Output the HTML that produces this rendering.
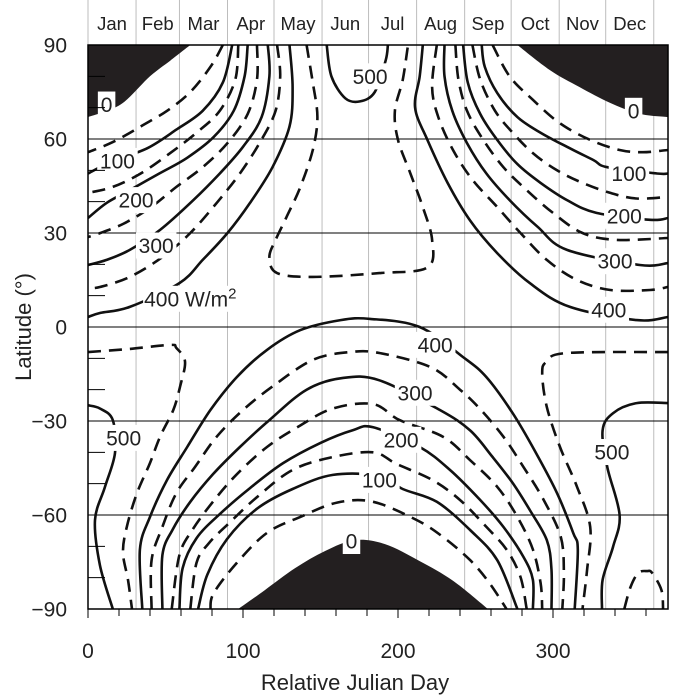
<!DOCTYPE html>
<html><head><meta charset="utf-8"><style>
html,body{margin:0;padding:0;background:#fff;}
svg{display:block;font-family:"Liberation Sans",sans-serif;}
</style></head><body>
<svg id="chart" width="677" height="695" viewBox="0 0 677 695" xmlns="http://www.w3.org/2000/svg"></svg>
<script>
// ---- data (day, latitude) ----
const months = ["Jan","Feb","Mar","Apr","May","Jun","Jul","Aug","Sep","Oct","Nov","Dec"];
const monthStarts = [0,31,59,90,120,151,181,212,243,273,304,334,365];
const xTicks = [0,100,200,300];
const yTicks = [90,60,30,0,-30,-60,-90];
const darkNorthLeft = [[66,90],[53,85],[40,80],[21,71],[0,67]];
const darkNorthRight = [[277,90],[298,82],[317,76.6],[337,71.5],[356,68],[374.2,67]];
const darkSouth = [[97,-90],[114,-84],[133.5,-77],[153,-71.5],[172,-68],[191.6,-69.3],[214,-74.7],[235.5,-81],[258,-90]];
const nL50 = [[87,90],[79,83],[66,75],[51,69],[34,64],[16,59],[0,55.8]];
const nL100 = [[93,90],[87,78],[74,69],[57,63],[38,57],[16,53],[0,49]];
const nL150 = [[97,90],[95,79],[85,69],[70,62],[53,55.5],[34,49],[16,44.7],[0,42.8]];
const nL200 = [[103,90],[101,80],[94,69],[81,60.6],[64,54],[46,49],[27,43.7],[12,39.6],[0,34.8]];
const nL250 = [[109,90],[109,79],[103,68],[90,58.7],[74,51],[57,44.7],[40,38],[23,33],[8,30],[0,28.7]];
const nL300 = [[116,90],[117,80],[112,67],[100,57.5],[85,49],[68,40.5],[46.5,31],[27,24.6],[12,21.4],[0,19.8]];
const nL350 = [[122,90],[124,80],[121,69],[111,59],[98,49],[83,39.6],[66,30],[48,22.3],[27,16],[8,12.8],[0,12.4]];
const nL400 = [[130,90],[132,76.6],[130,64],[119,51],[104.5,39.6],[90,30],[74,21.4],[59,14],[27,6.4],[8,4.5],[0,3.2]];
const n450 = [[141,90],[145,78],[148,67],[145,56.5],[137,44.7],[128,35],[121,27.8],[117,22.3],[122,17.2],[145,16],[188,17.2],[219,19],[222,27.8],[216,38.3],[208,49],[200,59.7],[198,69],[203,78.8],[206,88.4],[206.5,90]];
const n500 = [[154,90],[157,80],[166,73],[175.5,72],[185,75],[192,85],[193.5,90]];
const nR50 = [[261,90],[272,80],[287,72.5],[304.5,65],[324,59.7],[343,56.5],[358,55.8],[374.2,56.5]];
const nR100 = [[254,90],[256,83],[264,74.7],[277,67],[292,62],[309,57.5],[326,53.3],[335,51],[367,49],[374.2,49]];
const nR150 = [[248,90],[253,79],[262.6,69],[274,62],[287,55.5],[302.6,50],[319,46],[337,42.8],[354,41],[374.2,41.5]];
const nR200 = [[242,90],[245,78],[253,68],[264,59.7],[277,52],[292,46],[309,40.5],[328,36.4],[362.6,34.2],[374.2,34.8]];
const nR250 = [[237,90],[239,79],[244.5,69],[255,59.7],[268,51],[283,43.7],[300,36.4],[319,30],[341,27.8],[374.2,28.4]];
const nR300 = [[230,90],[230,80],[235,69],[244.5,58.7],[257,49],[272,40.5],[290,32],[309,24.6],[356,19.8],[374.2,20.4]];
const nR350 = [[225,90],[222,76.6],[226,67],[235.5,56.5],[248,47],[264,38.3],[279,30],[296,21.4],[315.5,15],[337,11.8],[362.6,11.8],[374.2,12.8]];
const nR400 = [[216,90],[214,80],[211,70],[219,59.7],[232,46],[246.5,34],[264,23.6],[285,14],[311,6.4],[354,2.2],[374.2,3.2]];
const s50 = [[79,-90],[81,-85],[96,-75.3],[115.5,-65.7],[137,-60.6],[161,-56],[184,-55.8],[212,-61.6],[229,-67],[246.5,-74.4],[259,-81.7],[270,-90]];
const s100 = [[71,-90],[77,-79],[89.7,-67.7],[109,-58],[132,-51.7],[158,-47.2],[188,-47.5],[203,-51.7],[225,-55.8],[246.5,-64.8],[264,-74.4],[277,-90]];
const s150 = [[66,-90],[70,-75.3],[78,-69],[91,-62.6],[109,-54.3],[132,-45.6],[158,-41.5],[184,-40],[199,-43.7],[222,-48.8],[240,-55.2],[257,-63.8],[270,-71],[279,-79.8],[283,-90]];
const s200 = [[59,-90],[61,-77],[70,-67.4],[85,-59.7],[104.5,-51.4],[126,-43.4],[150,-37],[171,-32.9],[184,-32],[214,-38.3],[233.5,-45.6],[253,-55.2],[268,-63.8],[281,-73.4],[287,-80.7],[287,-90]];
const s250 = [[54,-90],[59,-72.8],[67.7,-64.5],[80.6,-55.8],[96,-47],[115.5,-38.3],[135,-32],[158,-26],[184,-24.6],[201,-29.7],[229,-35],[246.5,-42.5],[264,-51],[277,-60.6],[287,-71],[292,-81.7],[293,-90]];
const s300 = [[48,-90],[48,-72.8],[54.8,-64.5],[66,-55.8],[80.6,-47],[98,-38.3],[117,-29.7],[141,-20],[164,-16.3],[188,-17],[227,-26.5],[246.5,-33],[261,-41.5],[274,-49.8],[285,-58.4],[296,-68],[299,-77.5],[299,-90]];
const s350 = [[41,-90],[41,-74.4],[48,-63.8],[57,-53],[69,-44.7],[83,-35],[100,-26.5],[119,-19],[145,-10.5],[169,-8],[188,-8.3],[221,-12.8],[240,-20],[253,-26.2],[268,-35],[281,-44.7],[294,-55.2],[305,-67],[307,-78.5],[306,-90]];
const s400 = [[35,-90],[33.5,-71],[40,-60.6],[51,-48.8],[64,-38.3],[79,-26.5],[96,-16],[115.5,-7.3],[137,-1],[163,2.2],[182,2.6],[214,0],[242,-9.6],[257,-16],[274,-27.5],[289,-40.2],[302.6,-53],[313,-65.7],[316,-71],[314,-90]];
const s450L = [[0,-8],[27,-7],[53,-5.7],[57,-6.7],[62.6,-11],[59.4,-19],[55,-26.5],[46.5,-35],[40,-43.4],[31.6,-53],[25,-63.8],[22.6,-72],[25.8,-80.7],[28.4,-90]];
const s450R = [[374.2,-8],[309,-8.3],[296,-11],[293,-14.7],[296,-25.5],[304.5,-38.3],[315.5,-51],[324,-63.8],[322,-77.5],[319,-90]];
const s500L = [[0,-25],[7.7,-26],[16,-29.7],[17.4,-40.2],[11,-51],[4.5,-61.6],[7.7,-76],[16,-90]];
const s500R = [[374.2,-24.3],[354,-24.3],[338.7,-27.5],[332,-33],[335,-44.7],[343,-60],[338.7,-70.2],[332,-80.7],[331.6,-90]];
const s550bump = [[346,-90],[350,-83],[355,-78.5],[360.6,-77.9],[364,-78.5],[370,-84],[371,-90]];
const contourLabels = [
 ["0",12,71],["100",19,53],["200",31,40.5],["300",44,26],["400 W/m²",66,9],["500",182,80],
 ["0",352,69],["100",349,49],["200",346,35.5],["300",340,21],["400",336,5.5],
 ["400",224,-5.7],["300",211,-21],["200",202,-36],["100",188,-48.8],["0",170,-68.3],
 ["500",23,-35.4],["500",338,-39.9]
];
const contourSet = [
 ["n-left-50",nL50,50],["n-left-100",nL100,100],["n-left-150",nL150,150],["n-left-200",nL200,200],
 ["n-left-250",nL250,250],["n-left-300",nL300,300],["n-left-350",nL350,350],["n-left-400",nL400,400],
 ["n-450",n450,450],["n-500",n500,500],
 ["n-right-50",nR50,50],["n-right-100",nR100,100],["n-right-150",nR150,150],["n-right-200",nR200,200],
 ["n-right-250",nR250,250],["n-right-300",nR300,300],["n-right-350",nR350,350],["n-right-400",nR400,400],
 ["s-50",s50,50],["s-100",s100,100],["s-150",s150,150],["s-200",s200,200],["s-250",s250,250],
 ["s-300",s300,300],["s-350",s350,350],["s-400",s400,400],["s-450-left",s450L,450],["s-450-right",s450R,450],
 ["s-500-left",s500L,500],["s-500-right",s500R,500],["s-550-bump",s550bump,550]
];
// ---- scales ----
const X0=88, PXD=1.55, DMAX=374.2, Y0=327, PXL=3.1333;
const xS = d => X0 + d*PXD;
const yS = l => Y0 - l*PXL;
const NS="http://www.w3.org/2000/svg";
const svg=document.getElementById('chart');
function mk(tag, attrs, parent){const e=document.createElementNS(NS,tag);for(const k in attrs)e.setAttribute(k,attrs[k]);(parent||svg).appendChild(e);return e;}
function smoothPath(pts){
  const p=pts.map(q=>[xS(q[0]),yS(q[1])]);
  let d="M"+p[0][0].toFixed(1)+","+p[0][1].toFixed(1);
  for(let i=0;i<p.length-1;i++){
    const p0=p[i-1]||p[i],p1=p[i],p2=p[i+1],p3=p[i+2]||p2;
    const c1=[p1[0]+(p2[0]-p0[0])/6,p1[1]+(p2[1]-p0[1])/6];
    const c2=[p2[0]-(p3[0]-p1[0])/6,p2[1]-(p3[1]-p1[1])/6];
    d+=" C"+c1.map(v=>v.toFixed(1)).join(",")+" "+c2.map(v=>v.toFixed(1)).join(",")+" "+p2[0].toFixed(1)+","+p2[1].toFixed(1);
  }
  return d;
}
const L=xS(0), R=xS(DMAX), T=yS(90), B=yS(-90);
const defs=mk('defs',{});
const cp=mk('clipPath',{id:'plotclip'},defs);
mk('rect',{x:L,y:T,width:R-L,height:B-T},cp);
for(let i=1;i<monthStarts.length;i++){
  const g=mk('line',{x1:xS(monthStarts[i]),x2:xS(monthStarts[i]),y1:0,y2:B,stroke:'#bdbdbd','stroke-width':1});
  
  
}
mk('line',{x1:L,x2:L,y1:0,y2:T,stroke:'#bdbdbd','stroke-width':1});
months.forEach((m,i)=>{
  const t=mk('text',{x:(xS(monthStarts[i])+xS(monthStarts[i+1]))/2,y:30,'text-anchor':'middle','font-size':18.5,fill:'#222'});
  t.textContent=m;
  
  
});
[60,30,0,-30,-60].forEach(l=>{
  const g=mk('line',{x1:L,x2:R,y1:yS(l),y2:yS(l),stroke:'#000','stroke-width':1});
  
  
});
const plot=mk('g',{'clip-path':'url(#plotclip)'});


const dn1=mk('path',{d:smoothPath(darkNorthLeft)+` L${L},${T} Z`,fill:'#231f20'},plot);


const dn2=mk('path',{d:smoothPath(darkNorthRight)+` L${R},${T} Z`,fill:'#231f20'},plot);


const ds=mk('path',{d:smoothPath(darkSouth)+' Z',fill:'#231f20'},plot);


contourSet.forEach(c=>{
  const lvl=c[2];
  const dashed=(lvl%100)!==0;
  const p=mk('path',{d:smoothPath(c[1]),fill:'none',stroke:'#111','stroke-width':2.6,'stroke-dasharray':dashed?'13 8':'none'},plot);
  
  
});
contourLabels.forEach(c=>{
  const x=xS(c[1]), y=yS(c[2]);
  let w=c[0].length*11.5+6; if(c[0].indexOf('W')>=0) w=c[0].length*11.8;
  const r=mk('rect',{x:x-w/2,y:y-13,width:w,height:26,fill:'#fff'});
  
  
  const t=mk('text',{x:x,y:y+7.5,'text-anchor':'middle','font-size':21,fill:'#222'});
  if(c[0].indexOf('W/m')>=0){t.textContent='400 W/m';const s=mk('tspan',{dy:-8,'font-size':15},t);s.textContent='2';}
  else t.textContent=c[0];
  
  
});
const fr=mk('rect',{x:L,y:T,width:R-L,height:B-T,fill:'none',stroke:'#000','stroke-width':1.5});


for(let l=-80;l<=80;l+=10){
  if(l%30===0) continue;
  mk('line',{x1:L,x2:L+17,y1:yS(l),y2:yS(l),stroke:'#000','stroke-width':1});
}
yTicks.forEach(l=>{
  const t=mk('text',{x:67,y:yS(l)+7.5,'text-anchor':'end','font-size':21,fill:'#222'});
  t.textContent=(l<0?'\u2212'+(-l):String(l));
  
  
});
for(let d=20;d<=360;d+=20){ mk('line',{x1:xS(d),x2:xS(d),y1:B,y2:B+7,stroke:'#000','stroke-width':1}); }
xTicks.forEach(d=>{
  mk('line',{x1:xS(d),x2:xS(d),y1:B,y2:B+9,stroke:'#000','stroke-width':1});
  const t=mk('text',{x:xS(d),y:658,'text-anchor':'middle','font-size':21,fill:'#222'});
  t.textContent=String(d);
  
  
});
const xt=mk('text',{x:355,y:690,'text-anchor':'middle','font-size':22,fill:'#222'});
xt.textContent='Relative Julian Day';


const yt=mk('text',{x:0,y:0,'text-anchor':'middle','font-size':22,fill:'#222',transform:'translate(31,327) rotate(-90)'});
yt.textContent='Latitude (°)';


</script>
</body></html>
